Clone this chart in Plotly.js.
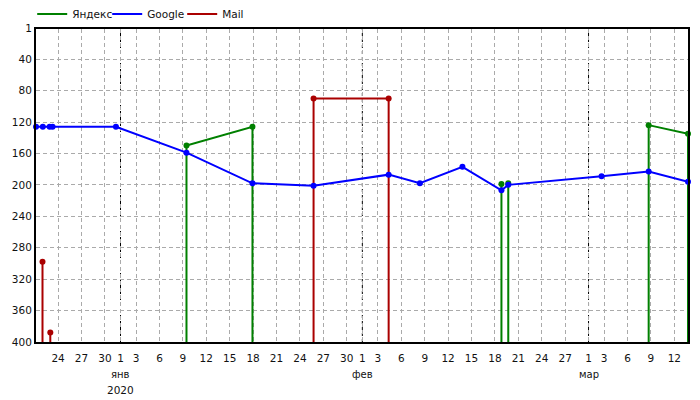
<!DOCTYPE html>
<html>
<head>
<meta charset="utf-8">
<script src="https://cdn.plot.ly/plotly-3.0.1.min.js"></script>
<style>html,body{margin:0;padding:0;background:#fff}#chart{width:700px;height:400px}</style>
</head>
<body>
<div id="chart"></div>
<script>
// ---- data ----
const seriesNames = ['Яндекс', 'Google', 'Mail'];

const googleDates = ['2019-12-21 04:00','2019-12-22 01:00','2019-12-22 22:00','2019-12-23 07:00','2019-12-31 10:00',
  '2020-01-09 11:00','2020-01-17 22:00','2020-01-25 18:00','2020-02-04 09:00','2020-02-08 09:00',
  '2020-02-13 20:00','2020-02-18 20:00','2020-02-19 17:00','2020-03-02 16:00','2020-03-08 17:00','2020-03-13 18:00'];
const googleRanks = [126,126,126,126,126,159,198,201,187,198,177,207,200,189,183,196];

const yandexDates = ['2020-01-09 11:00','2020-01-17 22:00','2020-02-18 20:00','2020-02-19 17:00','2020-03-08 17:00','2020-03-13 18:00'];
const yandexRanks = [150,126,199,198,124,135];
const yandexRuns  = [0,0,1,2,3,3];

const mailDates = ['2019-12-22 00:00','2019-12-23 00:00','2020-01-25 18:00','2020-02-04 09:00'];
const mailRanks = [298,388,90,90];
const mailRuns  = [0,1,2,2];

const tickDates = ['2019-12-24','2019-12-27','2019-12-30','2020-01-01','2020-01-03','2020-01-06','2020-01-09',
  '2020-01-12','2020-01-15','2020-01-18','2020-01-21','2020-01-24','2020-01-27','2020-01-30','2020-02-01',
  '2020-02-03','2020-02-06','2020-02-09','2020-02-12','2020-02-15','2020-02-18','2020-02-21','2020-02-24',
  '2020-02-27','2020-03-01','2020-03-03','2020-03-06','2020-03-09','2020-03-12'];
const tickLabels = ['24','27','30','1','3','6','9','12','15','18','21','24','27','30','1',
  '3','6','9','12','15','18','21','24','27','1','3','6','9','12'];
const rankTicks = [1,40,80,120,160,200,240,280,320,360,400];
const monthStarts = ['2020-01-01','2020-02-01','2020-03-01'];
const monthLabels = ['янв','фев','мар'];
const yearLabel = '2020';
const bottomRank = 400;

// ---- build ----
const colors = {y:'#008000', g:'#0000ff', m:'#aa0000'};
const FONT = 'DejaVu Sans, Verdana, sans-serif';

function stems(dates, ranks, runs) {
  const x = [], y = [];
  let i = 0;
  while (i < dates.length) {
    let j = i;
    while (j + 1 < dates.length && runs[j + 1] === runs[i]) j++;
    x.push(dates[i]); y.push(bottomRank);
    for (let k = i; k <= j; k++) { x.push(dates[k]); y.push(ranks[k]); }
    x.push(dates[j]); y.push(bottomRank);
    x.push(null); y.push(null);
    i = j + 1;
  }
  return {x, y};
}

const ys = stems(yandexDates, yandexRanks, yandexRuns);
const ms = stems(mailDates, mailRanks, mailRuns);

const traces = [
  {x: ys.x, y: ys.y, name: seriesNames[0], mode: 'lines', connectgaps: false,
   line: {color: colors.y, width: 2}, legendrank: 1, cliponaxis: false, hoverinfo: 'skip'},
  {x: yandexDates, y: yandexRanks, mode: 'markers', showlegend: false, cliponaxis: false,
   marker: {color: colors.y, size: 6}},
  {x: ms.x, y: ms.y, name: seriesNames[2], mode: 'lines', connectgaps: false,
   line: {color: colors.m, width: 2}, legendrank: 3, cliponaxis: false, hoverinfo: 'skip'},
  {x: mailDates, y: mailRanks, mode: 'markers', showlegend: false, cliponaxis: false,
   marker: {color: colors.m, size: 6}},
  {x: googleDates, y: googleRanks, name: seriesNames[1], mode: 'lines',
   line: {color: colors.g, width: 2}, legendrank: 2, cliponaxis: false},
  {x: googleDates, y: googleRanks, mode: 'markers', showlegend: false, cliponaxis: false,
   marker: {color: colors.g, size: 6}}
];

const shapes = [];
monthStarts.forEach(d => {
  shapes.push({type: 'line', xref: 'x', yref: 'paper', x0: d, x1: d, y0: 0, y1: 1,
    layer: 'between', line: {color: '#ffffff', width: 1.5}});
  shapes.push({type: 'line', xref: 'x', yref: 'paper', x0: d, x1: d, y0: 0, y1: 1,
    layer: 'between', line: {color: '#000000', width: 1, dash: '3px,3px'}});
});

const annotations = [];
monthStarts.forEach((d, i) => {
  annotations.push({x: d, xref: 'x', y: 0, yref: 'paper', text: monthLabels[i], showarrow: false,
    yanchor: 'middle', yshift: -32, font: {family: FONT, size: 10, color: '#111'}});
});
annotations.push({x: monthStarts[0], xref: 'x', y: 0, yref: 'paper', text: yearLabel, showarrow: false,
  yanchor: 'middle', yshift: -48, font: {family: FONT, size: 10.5, color: '#111'}});

const layout = {
  width: 700, height: 400,
  margin: {l: 36, r: 12, t: 27, b: 58},
  paper_bgcolor: '#fff', plot_bgcolor: '#fff',
  font: {family: FONT, size: 10.5, color: '#111'},
  showlegend: true,
  legend: {orientation: 'h', x: 0.046, xanchor: 'left', y: 0.965, yanchor: 'middle',
    xref: 'container', yref: 'container', entrywidth: 30, entrywidthmode: 'pixels',
    font: {family: FONT, size: 10.5, color: '#111'}, bgcolor: 'rgba(0,0,0,0)'},
  xaxis: {
    type: 'date', range: ['2019-12-21 04:00', '2020-03-13 18:00'], automargin: false,
    tickmode: 'array', tickvals: tickDates, ticktext: tickLabels, tickangle: 0, ticklabelstandoff: 5,
    showgrid: true, gridcolor: '#aaaaaa', griddash: '4px,3px', gridwidth: 1,
    showline: true, linecolor: '#000', linewidth: 2, mirror: true,
    zeroline: false, ticks: '', tickfont: {family: FONT, size: 10.5, color: '#111'}
  },
  yaxis: {
    range: [400, 1], tickmode: 'array', tickvals: rankTicks, automargin: false,
    showgrid: true, gridcolor: '#aaaaaa', griddash: '4px,3px', gridwidth: 1,
    showline: true, linecolor: '#000', linewidth: 2, mirror: true,
    zeroline: false, ticks: '', tickfont: {family: FONT, size: 10.5, color: '#111'}
  },
  shapes: shapes,
  annotations: annotations
};

Plotly.newPlot('chart', traces, layout, {displayModeBar: false, staticPlot: true});
</script>
</body>
</html>
